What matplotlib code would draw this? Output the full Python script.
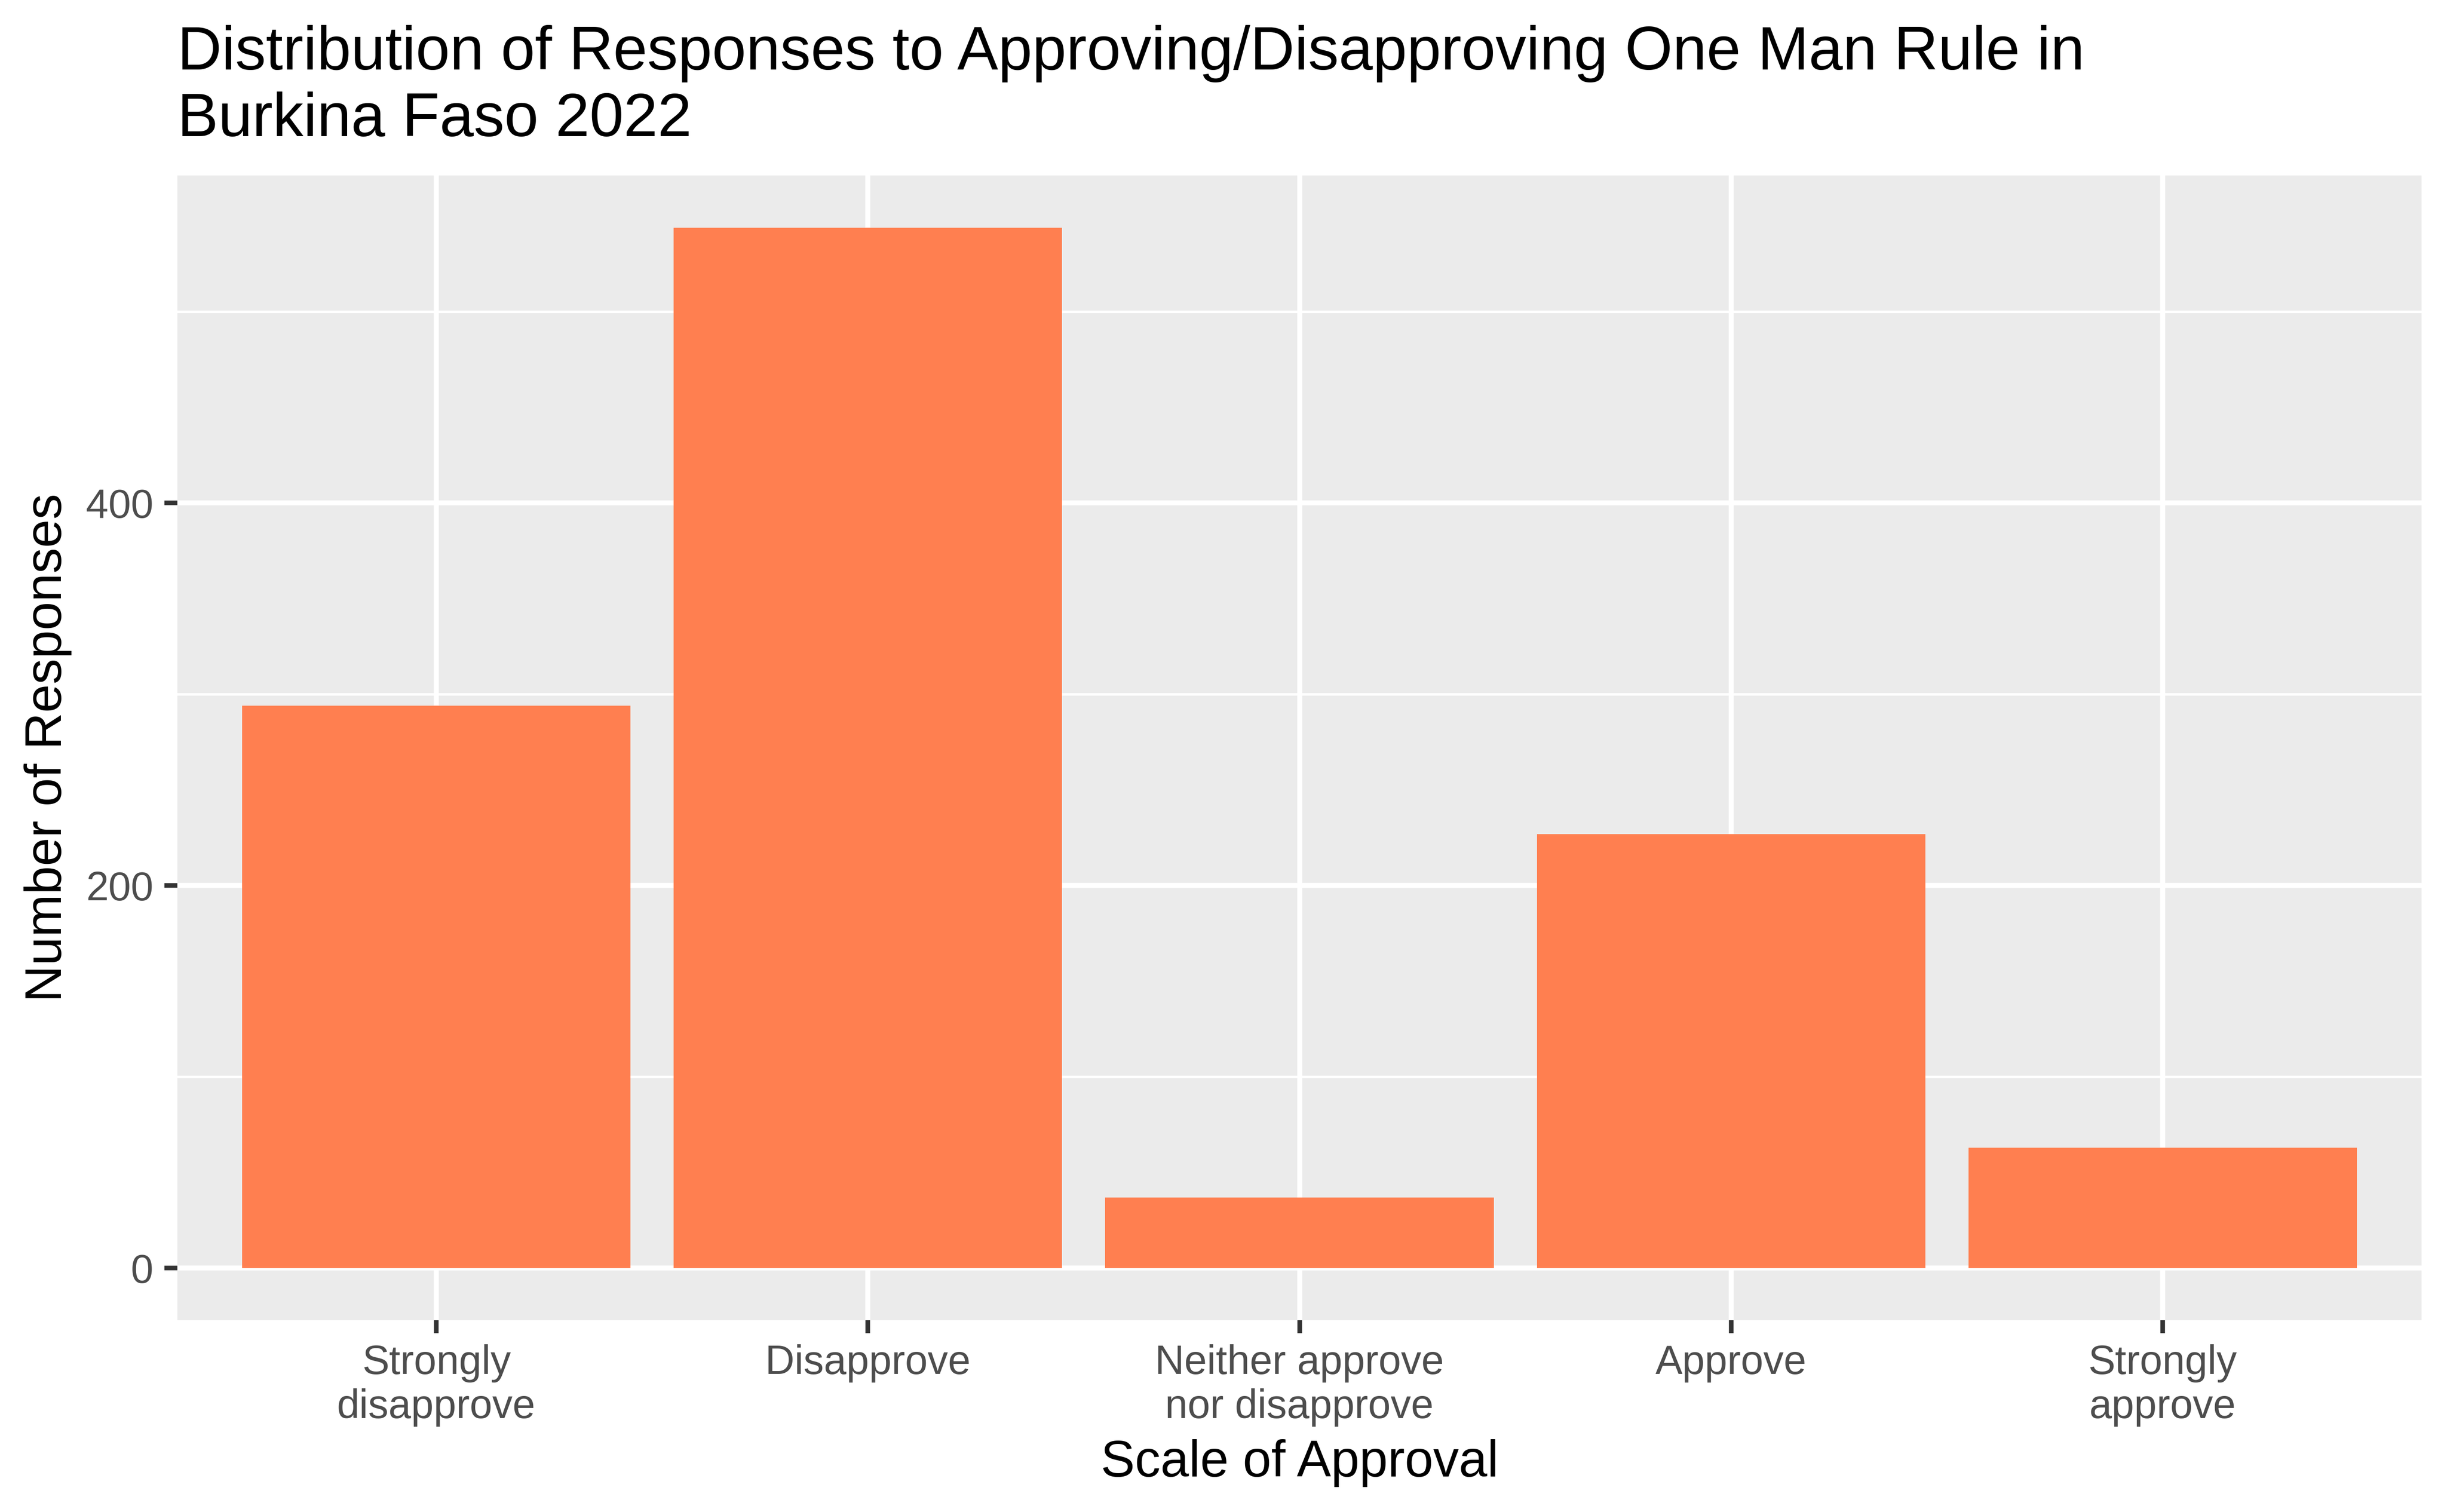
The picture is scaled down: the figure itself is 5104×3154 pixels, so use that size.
import matplotlib
matplotlib.use("Agg")
import matplotlib.pyplot as plt
from matplotlib.ticker import MultipleLocator

categories = ["Strongly\ndisapprove", "Disapprove", "Neither approve\nnor disapprove",
              "Approve", "Strongly\napprove"]
counts = [294, 544, 37, 227, 63]

plt.rcParams['font.family'] = ['Liberation Sans', 'DejaVu Sans']

fig = plt.figure(figsize=(5104 / 300, 3154 / 300), dpi=300)
ax = fig.add_axes([370 / 5104, 1 - 2754 / 3154, (5051 - 370) / 5104, (2754 - 366) / 3154])

x = list(range(1, len(categories) + 1))
ax.bar(x, counts, width=0.9, color='#FF7F50', zorder=3)

# ggplot-like panel
ax.set_facecolor('#EBEBEB')
for s in ax.spines.values():
    s.set_visible(False)
ymax = max(counts)
ax.set_ylim(-0.05 * ymax, 1.05 * ymax)
ax.set_xlim(0.4, len(categories) + 0.6)
ax.yaxis.set_major_locator(MultipleLocator(200))
ax.yaxis.set_minor_locator(MultipleLocator(100))
ax.set_xticks(x)
ax.set_xticklabels(categories)
ax.grid(which='major', color='white', linewidth=2.5, zorder=1)
ax.grid(which='minor', axis='y', color='white', linewidth=1.25, zorder=1)
ax.tick_params(which='major', length=6.5, width=2.3, color='#333333',
               labelsize=20.3, labelcolor='#4D4D4D', pad=5.5)
ax.tick_params(which='minor', length=0)

ax.set_xlabel('Scale of Approval', fontsize=25.6, color='black')
ax.xaxis.set_label_coords(0.5, -0.104)
ax.set_ylabel('Number of Responses', fontsize=25.6, color='black')
ax.yaxis.set_label_coords(-0.047, 0.5)

ax.set_title('Distribution of Responses to Approving/Disapproving One Man Rule in\nBurkina Faso 2022',
             loc='left', fontsize=30.7, color='black', pad=19.7)

fig.savefig('out.png', dpi=300, facecolor='white')
plt.close(fig)
